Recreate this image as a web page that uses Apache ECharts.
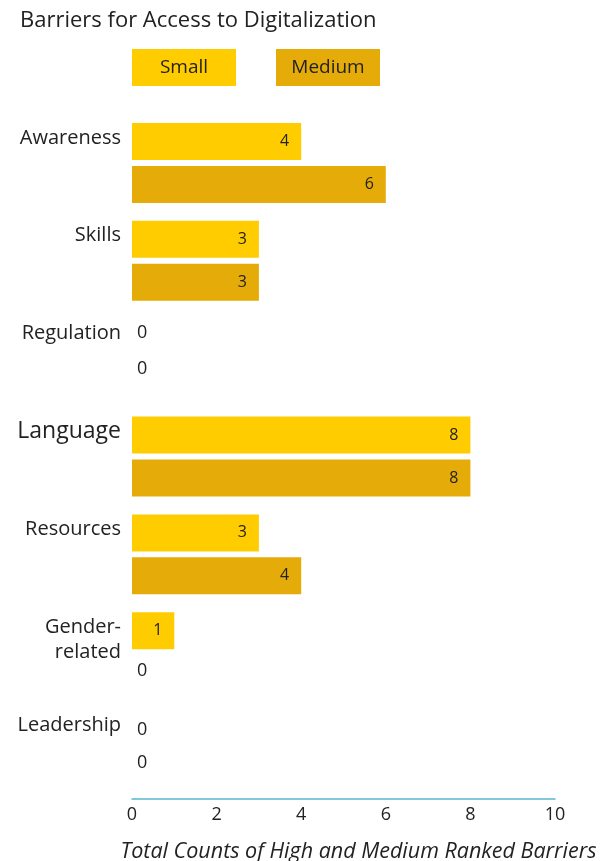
<!DOCTYPE html>
<html>
<head>
<meta charset="utf-8">
<script src="https://cdn.jsdelivr.net/npm/echarts@6/dist/echarts.min.js"></script>
<style>html,body{margin:0;padding:0;background:#fff}#c{width:609px;height:861px}</style>
</head>
<body>
<div id="c"></div>
<script>
const categories = ['Awareness','Skills','Regulation','Language','Resources','Gender-related','Leadership'];
const categoryLines = [['Awareness'],['Skills'],['Regulation'],['Language'],['Resources'],['Gender-','related'],['Leadership']];
const smallValues = [4,3,0,8,3,1,0];
const mediumValues = [6,3,0,8,4,0,0];
const xTicks = [0,2,4,6,8,10];
const seriesNames = ['Small','Medium'];
const colors = ['#FFCC00','#E5AB08'];
const FONT = "'Open Sans', sans-serif";
// vertical nudges of the "0" labels (style only), per series, per category
const zeroLabelNudge = [[0,0,-4,0,0,0,1],[0,0,-11,0,0,-3,-9]];

function toData(vals, s){
  return vals.map((v, i) => v === 0
    ? {value: v, label: {position: 'right', distance: 5, fontSize: 18, offset: [0, zeroLabelNudge[s][i]]}}
    : {value: v});
}

const chart = echarts.init(document.getElementById('c'), null, {renderer:'canvas'});
chart.setOption({
  animation: false,
  textStyle: {fontFamily: FONT},
  title: {
    text: 'Barriers for Access to Digitalization',
    left: 15, top: 5,
    textStyle: {fontFamily: FONT, fontSize: 22, fontWeight: 'normal', color: '#222'}
  },
  legend: {
    left: 122, top: 44,
    itemWidth: 0, itemHeight: 37, itemGap: 35,
    selectedMode: false,
    data: seriesNames.map(n => ({name: n, icon: 'none'})),
    formatter: n => `{${n}|${n}}`,
    textStyle: {
      fontFamily: FONT, fontSize: 19, color: '#222',
      rich: {
        Small: {backgroundColor: colors[0], width: 104, height: 37, lineHeight: 37, align: 'center', fontSize: 19, color: '#222', fontFamily: FONT},
        Medium: {backgroundColor: colors[1], width: 104, height: 37, lineHeight: 37, align: 'center', fontSize: 19, color: '#222', fontFamily: FONT}
      }
    }
  },
  grid: {left: 132, right: 54, top: 114, bottom: 62, containLabel: false, outerBoundsMode: 'none'},
  xAxis: {
    type: 'value', min: 0, max: 10, interval: 2,
    splitLine: {show: false},
    axisTick: {show: false},
    axisLine: {show: true, lineStyle: {color: '#5BB5D0', width: 1.5}},
    axisLabel: {
      fontFamily: FONT, fontSize: 18, color: '#222', margin: 7,
      formatter: v => xTicks.includes(v) ? String(v) : ''
    },
    name: 'Total Counts of High and Medium Ranked Barriers',
    nameLocation: 'middle', nameGap: 42,
    nameTextStyle: {fontFamily: FONT, fontSize: 21.5, fontStyle: 'italic', color: '#222', padding: [0,0,0,30]}
  },
  yAxis: {
    type: 'category', inverse: true, data: categories,
    axisLine: {show: false}, axisTick: {show: false},
    axisLabel: {
      margin: 11, color: '#222',
      formatter: v => {
        const lines = categoryLines[categories.indexOf(v)].slice();
        while (lines.length < 3) lines.push(' ');
        const key = v === 'Language' ? 'b' : 'a';
        return lines.map(l => `{${key}|${l}}`).join('\n');
      },
      rich: {
        a: {fontFamily: FONT, fontSize: 20, lineHeight: 25, color: '#222', align: 'right'},
        b: {fontFamily: FONT, fontSize: 23, lineHeight: 25, color: '#222', align: 'right'}
      }
    }
  },
  series: seriesNames.map((n,i) => ({
    name: n, type: 'bar',
    data: toData(i === 0 ? smallValues : mediumValues, i),
    barWidth: 37, barGap: '16%',
    itemStyle: {color: colors[i]},
    label: {show: true, position: 'insideRight', distance: 12, fontFamily: FONT, fontSize: 16, color: '#222'}
  }))
});
</script>
</body>
</html>
